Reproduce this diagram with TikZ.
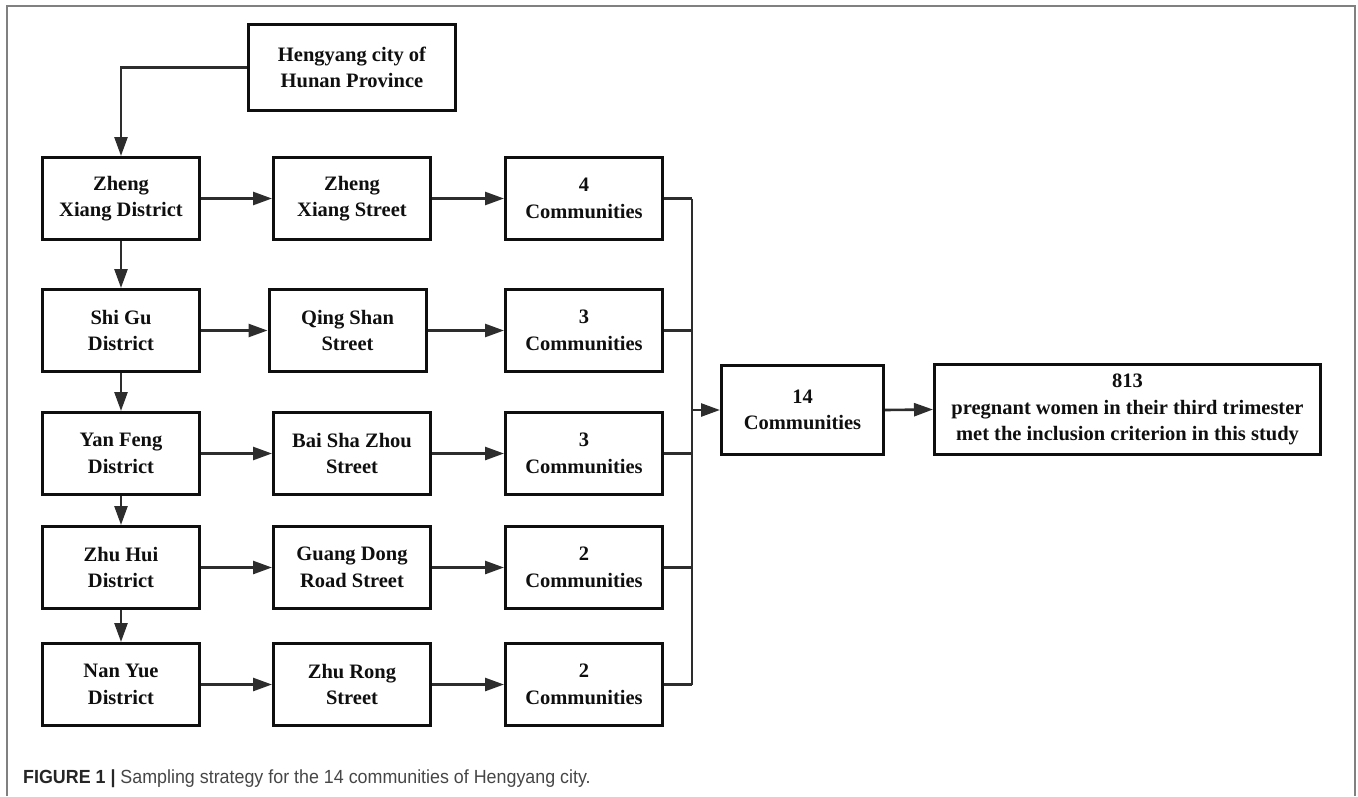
\documentclass[tikz,border=0pt]{standalone}
\usepackage{fontspec}
\setmainfont{Liberation Serif}
\newfontfamily\capfont[FakeStretch=0.94]{Liberation Sans}
\usepackage{tikz}
\usetikzlibrary{arrows.meta, positioning}
\definecolor{framegray}{RGB}{128,128,128}
\definecolor{linedark}{RGB}{45,45,45}
\definecolor{inkblack}{RGB}{15,15,15}
\definecolor{captiongray}{RGB}{70,70,70}

\begin{document}
\begin{tikzpicture}[x=1pt, y=-1pt,
    box/.style={draw=inkblack, line width=3pt, inner sep=0pt, align=center,
      font=\fontsize{20.5}{26.5}\selectfont\bfseries, text=inkblack,
      minimum width=157pt, minimum height=82pt},
    link/.style={draw=linedark, line width=2.6pt, -{Triangle[length=19pt, width=13pt]}},
    bus/.style={draw=linedark, line width=2.4pt}]
        \useasboundingbox (0,0) rectangle (1358,796);
        % page frame
        \draw[framegray, line width=1.5pt] (7,796) -- (7,6) -- (1355,6) -- (1355,796);

        % city
        \node[box, minimum width=207pt, minimum height=86pt] (city) at (352,67.5) {Hengyang city of\\Hunan Province};

        % districts
        \node[box] (zxd) at (121,198.5) {Zheng\\Xiang District};
        \node[box] (sgd) at (121,330.5) {Shi Gu\\District};
        \node[box] (yfd) at (121,453.5) {Yan Feng\\District};
        \node[box] (zhd) at (121,567.5) {Zhu Hui\\District};
        \node[box] (nyd) at (121,684.5) {Nan Yue\\District};

        % streets
        \node[box] (zxs) at (352,198.5) {Zheng\\Xiang Street};
        \node[box] (qss) at (347.5,330.5) {Qing Shan\\Street};
        \node[box] (bsz) at (352,453.5) {Bai Sha Zhou\\Street};
        \node[box] (gdr) at (352,567.5) {Guang Dong\\Road Street};
        \node[box] (zrs) at (352,684.5) {Zhu Rong\\Street};

        % communities
        \node[box] (c1) at (584,198.5) {4\\Communities};
        \node[box] (c2) at (584,330.5) {3\\Communities};
        \node[box] (c3) at (584,453.5) {3\\Communities};
        \node[box] (c4) at (584,567.5) {2\\Communities};
        \node[box] (c5) at (584,684.5) {2\\Communities};

        % totals
        \node[box, minimum width=162pt, minimum height=89pt] (total) at (802.5,410) {14\\Communities};
        \node[box, minimum width=386pt, minimum height=90pt] (women) at (1127.5,409.5) {813\\pregnant women in their third trimester\\met the inclusion criterion in this study};

        % arrows down the district column
        \draw[link] (city.west) -| (zxd.north);
        \draw[link] (zxd.south) -- (sgd.north);
        \draw[link] (sgd.south) -- (yfd.north);
        \draw[link] (yfd.south) -- (zhd.north);
        \draw[link] (zhd.south) -- (nyd.north);

        % district -> street -> communities
        \draw[link] (zxd.east) -- (zxs.west);
        \draw[link] (sgd.east) -- (qss.west);
        \draw[link] (yfd.east) -- (bsz.west);
        \draw[link] (zhd.east) -- (gdr.west);
        \draw[link] (nyd.east) -- (zrs.west);
        \draw[link] (zxs.east) -- (c1.west);
        \draw[link] (qss.east) -- (c2.west);
        \draw[link] (bsz.east) -- (c3.west);
        \draw[link] (gdr.east) -- (c4.west);
        \draw[link] (zrs.east) -- (c5.west);

        % collecting line
        \coordinate (bus) at (692,410);
        \draw[bus] (c1.east) -- (c1.east -| bus);
        \draw[bus] (c2.east) -- (c2.east -| bus);
        \draw[bus] (c3.east) -- (c3.east -| bus);
        \draw[bus] (c4.east) -- (c4.east -| bus);
        \draw[bus] (c5.east) -- (c5.east -| bus);
        \draw[bus] (c1.east -| bus) -- (c5.east -| bus);
        \draw[link] (bus) -- (total.west);
        \draw[link] (total.east) -- (women.west);

        % caption
        \node[anchor=base west, inner sep=0pt, text=captiongray,
          font=\capfont\fontsize{19}{23}\selectfont] (caption) at (23,783)
          {\textcolor{black!85}{\textbf{FIGURE 1 |}} Sampling strategy for the 14 communities of Hengyang city.};
    \end{tikzpicture}
\end{document}
